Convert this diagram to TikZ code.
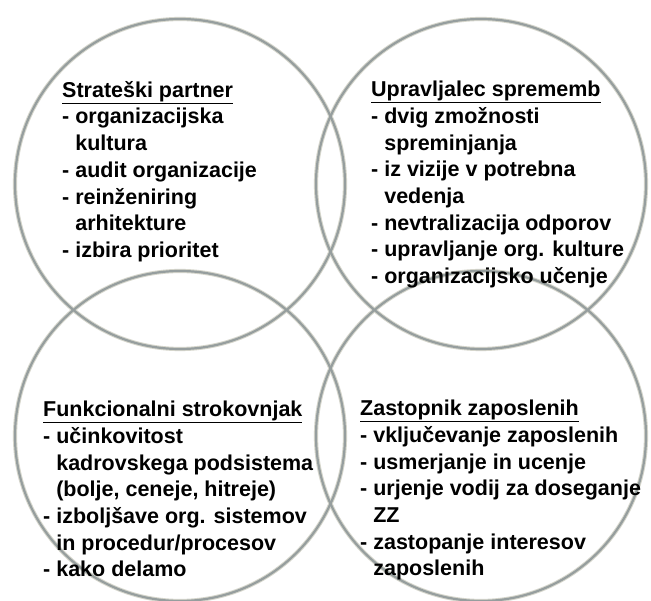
\documentclass[tikz,border=0pt]{standalone}
\usepackage{fontspec}
\setmainfont{Liberation Sans}
\usepackage{xcolor}
\usepackage{tikz}
\definecolor{ringgray}{RGB}{150,158,158}
\definecolor{ringhalo}{RGB}{214,214,204}
\tikzset{
  ring/.style={draw=ringgray, line width=2.2pt},
  halo/.style={draw=ringhalo, line width=4.2pt},
  rolebox/.style={anchor=north west, inner sep=0pt, align=left,
    font=\fontsize{21.5}{26.7}\selectfont\bfseries},
}
\newcommand{\ind}{\hspace*{0.61em}}

\begin{document}
\begin{tikzpicture}[x=1pt, y=-1pt]
  \useasboundingbox (0,0) rectangle (651,601);
  \fill[white] (0,0) rectangle (651,601);

  % centres of the four roles
  \coordinate (tl) at (180,184);
  \coordinate (tr) at (481,184);
  \coordinate (bl) at (180,436);
  \coordinate (br) at (481,436);

  \foreach \c in {tl,tr,bl,br}
    \draw[halo] (\c) circle[radius=165pt];
  \foreach \c in {tl,tr,bl,br}
    \draw[ring] (\c) circle[radius=165pt];

  \node[rolebox] (partner) at (62,81) {\underline{Strateški partner}\\
    - organizacijska\\\ind kultura\\
    - audit organizacije\\
    - reinženiring\\\ind arhitekture\\
    - izbira prioritet};
  \node[rolebox] (change) at (371,81) {\underline{Upravljalec sprememb}\\
    - dvig zmožnosti\\\ind spreminjanja\\
    - iz vizije v potrebna\\\ind vedenja\\
    - nevtralizacija odporov\\
    - upravljanje org. kulture\\
    - organizacijsko učenje};
  \node[rolebox] (expert) at (43,401) {\underline{Funkcionalni strokovnjak}\\
    - učinkovitost\\\ind kadrovskega podsistema\\\ind (bolje, ceneje, hitreje)\\
    - izboljšave org. sistemov\\\ind in procedur/procesov\\
    - kako delamo};
  \node[rolebox] (advocate) at (360,400) {\underline{Zastopnik zaposlenih}\\
    - vključevanje zaposlenih\\
    - usmerjanje in ucenje\\
    - urjenje vodij za doseganje\\\ind ZZ\\
    - zastopanje interesov\\\ind zaposlenih};
\end{tikzpicture}
\end{document}
